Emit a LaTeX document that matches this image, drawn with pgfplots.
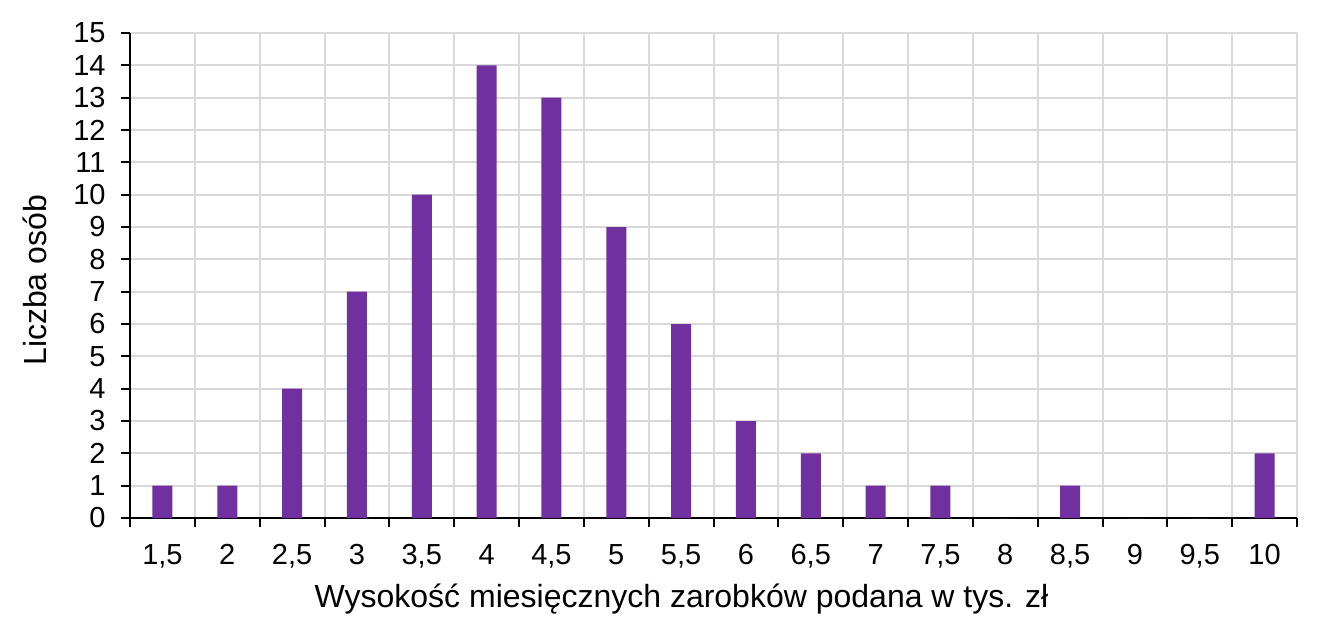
\documentclass[border=0pt]{standalone}
\usepackage{fontspec}
\setmainfont{Liberation Sans}
\usepackage{pgfplots}
\pgfplotsset{compat=1.18}
\definecolor{barc}{HTML}{7030A0}
\definecolor{gridc}{HTML}{D9D9D9}
\begin{document}
\begin{tikzpicture}
\begin{axis}[
  scale only axis, width=583.5pt, height=242.5pt,
  xmin=-0.5, xmax=17.5, ymin=0, ymax=15,
  axis x line*=bottom, axis y line*=left,
  axis line style={black, line width=1pt},
  tick align=outside, major tick length=4.5pt,
  tick style={black, line width=1pt},
  ytick={0,...,15},
  yticklabel style={xshift=-4.2pt},
  xtick={-0.5,0.5,...,17.5}, xticklabels={},
  extra x ticks={0,...,17},
  extra x tick labels={{1,5},2,{2,5},3,{3,5},4,{4,5},5,{5,5},6,{6,5},7,{7,5},8,{8,5},9,{9,5},10},
  extra x tick style={major tick length=0pt, grid=none, xticklabel style={anchor=base, yshift=-23pt}},
  xmajorgrids, ymajorgrids,
  grid style={gridc, line width=1pt},
  /pgf/number format/assume math mode=true,
  tick label style={font=\fontsize{14.5}{17}\selectfont},
  label style={font=\fontsize{16}{19}\selectfont},
  xlabel={Wysokość miesięcznych zarobków podana w tys. zł},
  ylabel={Liczba osób},
  xlabel style={at={(axis description cs:0.4726,-0.1835)}, anchor=base},
  ylabel style={at={(axis description cs:-0.0814,0.49)}, anchor=center},
  ybar, bar width=10pt,
]
\addplot[fill=barc, draw=none] coordinates {
(0,1) (1,1) (2,4) (3,7) (4,10) (5,14) (6,13) (7,9) (8,6) (9,3) (10,2) (11,1) (12,1) (13,0) (14,1) (15,0) (16,0) (17,2)};
\end{axis}
\path ([shift={(-65pt,-57pt)}]current axis.south west) rectangle ([shift={(19.5pt,16.5pt)}]current axis.north east);
\end{tikzpicture}
\end{document}
